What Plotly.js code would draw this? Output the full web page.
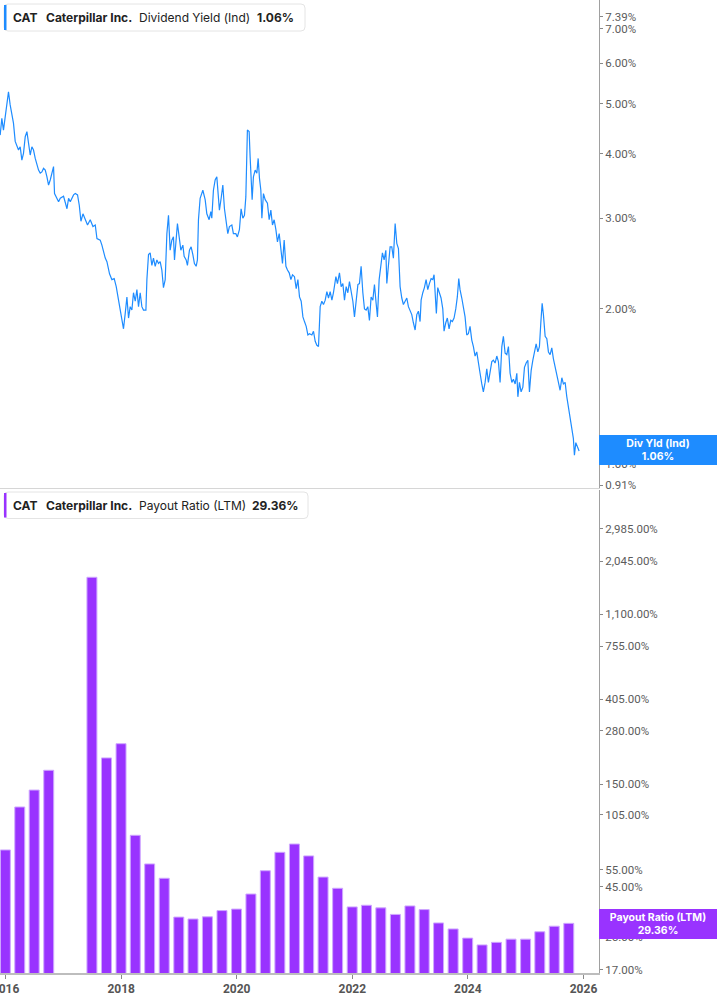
<!DOCTYPE html>
<html>
<head>
<meta charset="utf-8">
<script src="https://cdn.plot.ly/plotly-3.0.1.min.js"></script>
<style>
  html, body { margin: 0; padding: 0; background: #ffffff; }
  #chart { width: 717px; height: 1005px; }
</style>
</head>
<body>
<div id="chart"></div>
<script>
// ---- Dividend yield (Ind), % — decimal-year dates ----
const yieldT = [
  2015.907, 2015.936, 2015.964, 2015.994, 2016.023, 2016.051, 2016.080, 2016.109, 2016.137, 2016.167,
  2016.196, 2016.224, 2016.253, 2016.282, 2016.310, 2016.340, 2016.369, 2016.397, 2016.426, 2016.455,
  2016.483, 2016.513, 2016.542, 2016.570, 2016.599, 2016.628, 2016.656, 2016.686, 2016.715, 2016.743,
  2016.772, 2016.801, 2016.829, 2016.846, 2016.888, 2016.916, 2016.945, 2017.002, 2017.061, 2017.089,
  2017.118, 2017.175, 2017.205, 2017.244, 2017.274, 2017.303, 2017.338, 2017.378, 2017.417, 2017.464,
  2017.511, 2017.551, 2017.580, 2017.637, 2017.666, 2017.724, 2017.753, 2017.798, 2017.839, 2017.879,
  2017.914, 2017.954, 2017.983, 2018.013, 2018.040, 2018.070, 2018.099, 2018.127, 2018.156, 2018.185,
  2018.213, 2018.243, 2018.272, 2018.300, 2018.329, 2018.358, 2018.386, 2018.428, 2018.445, 2018.473,
  2018.502, 2018.531, 2018.559, 2018.589, 2018.618, 2018.646, 2018.675, 2018.704, 2018.732, 2018.762,
  2018.791, 2018.819, 2018.848, 2018.877, 2018.905, 2018.923, 2018.952, 2018.974, 2019.004, 2019.033,
  2019.068, 2019.090, 2019.125, 2019.147, 2019.182, 2019.211, 2019.241, 2019.268, 2019.298, 2019.320,
  2019.338, 2019.367, 2019.414, 2019.454, 2019.483, 2019.523, 2019.552, 2019.569, 2019.597, 2019.627,
  2019.656, 2019.684, 2019.701, 2019.731, 2019.760, 2019.788, 2019.817, 2019.846, 2019.874, 2019.916,
  2019.943, 2019.985, 2020.012, 2020.047, 2020.076, 2020.106, 2020.134, 2020.158, 2020.185, 2020.215,
  2020.232, 2020.249, 2020.267, 2020.289, 2020.319, 2020.348, 2020.371, 2020.393, 2020.417, 2020.435,
  2020.462, 2020.492, 2020.531, 2020.561, 2020.590, 2020.618, 2020.647, 2020.677, 2020.704, 2020.734,
  2020.763, 2020.791, 2020.820, 2020.850, 2020.877, 2020.907, 2020.936, 2020.964, 2020.998, 2021.028,
  2021.057, 2021.085, 2021.114, 2021.144, 2021.171, 2021.201, 2021.230, 2021.258, 2021.299, 2021.327,
  2021.357, 2021.386, 2021.414, 2021.443, 2021.472, 2021.500, 2021.530, 2021.559, 2021.587, 2021.616,
  2021.646, 2021.673, 2021.715, 2021.742, 2021.777, 2021.806, 2021.836, 2021.864, 2021.893, 2021.922,
  2021.950, 2021.979, 2022.009, 2022.037, 2022.066, 2022.096, 2022.123, 2022.152, 2022.182, 2022.210,
  2022.239, 2022.268, 2022.296, 2022.325, 2022.355, 2022.383, 2022.412, 2022.435, 2022.464, 2022.493,
  2022.521, 2022.550, 2022.580, 2022.597, 2022.625, 2022.654, 2022.683, 2022.711, 2022.741, 2022.770,
  2022.798, 2022.827, 2022.856, 2022.884, 2022.914, 2022.943, 2022.971, 2023.000, 2023.029, 2023.057,
  2023.087, 2023.116, 2023.144, 2023.173, 2023.191, 2023.220, 2023.248, 2023.277, 2023.306, 2023.334,
  2023.364, 2023.393, 2023.415, 2023.438, 2023.455, 2023.479, 2023.507, 2023.536, 2023.566, 2023.588,
  2023.618, 2023.645, 2023.675, 2023.704, 2023.732, 2023.761, 2023.791, 2023.818, 2023.843, 2023.865,
  2023.895, 2023.922, 2023.952, 2023.981, 2024.009, 2024.038, 2024.068, 2024.096, 2024.125, 2024.154,
  2024.182, 2024.211, 2024.241, 2024.268, 2024.298, 2024.327, 2024.355, 2024.384, 2024.414, 2024.441,
  2024.471, 2024.500, 2024.528, 2024.557, 2024.587, 2024.614, 2024.644, 2024.673, 2024.701, 2024.730,
  2024.760, 2024.787, 2024.817, 2024.846, 2024.864, 2024.891, 2024.920, 2024.950, 2024.978, 2025.007,
  2025.036, 2025.064, 2025.094, 2025.123, 2025.151, 2025.180, 2025.209, 2025.237, 2025.261, 2025.284,
  2025.306, 2025.336, 2025.365, 2025.393, 2025.422, 2025.451, 2025.479, 2025.509, 2025.538, 2025.566,
  2025.595, 2025.625, 2025.652, 2025.682, 2025.711, 2025.739, 2025.768, 2025.798, 2025.825, 2025.843,
  2025.867, 2025.895, 2025.924
];
const yieldPct = [
  4.35, 4.69, 4.45, 4.73, 5.09, 5.28, 4.98, 4.73, 4.59, 4.23,
  4.13, 4.07, 4.13, 3.89, 4.01, 4.32, 4.42, 4.23, 3.98, 4.13,
  4.07, 3.92, 3.81, 3.72, 3.67, 3.69, 3.75, 3.72, 3.61, 3.48,
  3.56, 3.69, 3.78, 3.35, 3.28, 3.23, 3.28, 3.31, 3.13, 3.28,
  3.23, 3.33, 3.35, 3.33, 3.18, 2.96, 3.06, 2.98, 2.91, 2.98,
  2.89, 2.91, 2.74, 2.72, 2.66, 2.51, 2.47, 2.34, 2.28, 2.29,
  2.21, 2.08, 1.99, 1.92, 1.83, 1.96, 2.11, 1.92, 2.02, 1.99,
  2.15, 2.07, 2.18, 2.02, 2.15, 2.02, 1.99, 1.99, 2.28, 2.55,
  2.57, 2.43, 2.51, 2.42, 2.49, 2.45, 2.47, 2.38, 2.20, 2.28,
  2.80, 3.04, 2.60, 2.72, 2.76, 2.49, 2.76, 2.93, 2.76, 2.60,
  2.66, 2.53, 2.49, 2.43, 2.60, 2.64, 2.55, 2.45, 2.42, 2.49,
  2.98, 3.28, 3.40, 3.26, 3.06, 2.98, 3.09, 3.00, 3.40, 3.56,
  3.61, 3.30, 3.11, 3.28, 3.48, 3.13, 2.98, 2.80, 2.89, 2.91,
  2.80, 2.80, 2.76, 2.85, 3.13, 3.00, 3.04, 3.30, 4.45, 4.42,
  3.95, 3.53, 3.26, 3.61, 3.72, 3.67, 3.92, 3.59, 3.40, 3.00,
  3.35, 3.26, 3.21, 2.98, 3.11, 2.91, 2.98, 2.85, 2.70, 2.80,
  2.64, 2.45, 2.72, 2.42, 2.38, 2.35, 2.28, 2.33, 2.31, 2.19,
  2.28, 2.11, 2.07, 1.93, 1.89, 1.85, 1.78, 1.79, 1.78, 1.81,
  1.73, 1.70, 1.69, 2.02, 2.07, 2.04, 2.08, 2.16, 2.10, 2.16,
  2.08, 2.15, 2.31, 2.24, 2.35, 2.21, 2.24, 2.08, 2.21, 2.15,
  2.26, 2.16, 2.07, 1.93, 2.11, 2.23, 2.24, 2.42, 2.15, 2.00,
  1.99, 2.02, 1.90, 2.11, 2.08, 2.23, 2.05, 1.93, 2.28, 2.45,
  2.57, 2.49, 2.60, 2.24, 2.45, 2.64, 2.64, 2.51, 2.93, 2.68,
  2.62, 2.21, 2.10, 2.04, 2.07, 2.10, 2.02, 1.99, 1.95, 1.88,
  1.82, 1.95, 1.98, 1.89, 2.08, 2.15, 2.20, 2.28, 2.18, 2.24,
  2.29, 2.28, 2.33, 2.11, 1.96, 2.20, 2.15, 2.10, 2.00, 1.81,
  1.88, 1.92, 1.83, 1.90, 1.89, 1.92, 2.00, 2.11, 2.29, 2.18,
  2.10, 2.02, 1.93, 1.78, 1.79, 1.85, 1.74, 1.69, 1.62, 1.65,
  1.56, 1.50, 1.43, 1.38, 1.44, 1.53, 1.44, 1.50, 1.58, 1.59,
  1.57, 1.62, 1.58, 1.44, 1.69, 1.77, 1.64, 1.63, 1.69, 1.50,
  1.44, 1.46, 1.43, 1.50, 1.35, 1.44, 1.38, 1.41, 1.54, 1.57,
  1.59, 1.38, 1.52, 1.59, 1.64, 1.71, 1.65, 1.69, 1.88, 2.05,
  1.95, 1.77, 1.75, 1.65, 1.63, 1.68, 1.60, 1.55, 1.50, 1.44,
  1.39, 1.47, 1.43, 1.44, 1.35, 1.29, 1.24, 1.18, 1.12, 1.04,
  1.10, 1.08, 1.06
];

// ---- Payout ratio (LTM), %, quarterly (null = negative, not drawn) ----
const payoutQuarters = [
  "2015-12-31", "2016-03-31", "2016-06-30", "2016-09-30", "2016-12-31", "2017-03-31",
  "2017-06-30", "2017-09-30", "2017-12-31", "2018-03-31", "2018-06-30", "2018-09-30",
  "2018-12-31", "2019-03-31", "2019-06-30", "2019-09-30", "2019-12-31", "2020-03-31",
  "2020-06-30", "2020-09-30", "2020-12-31", "2021-03-31", "2021-06-30", "2021-09-30",
  "2021-12-31", "2022-03-31", "2022-06-30", "2022-09-30", "2022-12-31", "2023-03-31",
  "2023-06-30", "2023-09-30", "2023-12-31", "2024-03-31", "2024-06-30", "2024-09-30",
  "2024-12-31", "2025-03-31", "2025-06-30", "2025-09-30"
];
const payoutPct = [
  69.4, 114.8, 140.0, 176.5, null, null,
  1694, 204.0, 241.0, 82.4, 58.9, 49.8,
  31.6, 30.9, 31.7, 34.1, 34.7, 41.4,
  54.4, 67.5, 74.4, 64.7, 50.5, 44.3,
  35.6, 36.3, 35.2, 32.6, 36.0, 34.5,
  29.5, 27.5, 24.7, 22.8, 23.5, 24.4,
  24.4, 26.6, 28.4, 29.36
];

// ---- Axis ticks ----
const yieldTickVals = [0.91, 1.00, 2.00, 3.00, 4.00, 5.00, 6.00, 7.00, 7.39];
const yieldTickText = ["0.91%", "1.00%", "2.00%", "3.00%", "4.00%", "5.00%", "6.00%", "7.00%", "7.39%"];
const payoutTickVals = [17, 25, 45, 55, 105, 150, 280, 405, 755, 1100, 2045, 2985];
const payoutTickText = ["17.00%", "25.00%", "45.00%", "55.00%", "105.00%", "150.00%", "280.00%",
                        "405.00%", "755.00%", "1,100.00%", "2,045.00%", "2,985.00%"];
const xTickYears = [2016, 2018, 2020, 2022, 2024, 2026];

const ticker = "CAT";
const company = "Caterpillar Inc.";
const yieldName = "Dividend Yield (Ind)";
const payoutName = "Payout Ratio (LTM)";
const yieldLast = "1.06%";
const payoutLast = "29.36%";

// ---- helpers ----
function decYearToDate(t) {
  const y = Math.floor(t);
  const s = Date.UTC(y, 0, 1), e = Date.UTC(y + 1, 0, 1);
  return new Date(s + (t - y) * (e - s)).toISOString().slice(0, 19).replace('T', ' ');
}
const yieldDates = yieldT.map(decYearToDate);

const W = 717, H = 1005;
const M = { l: 0, r: 118, t: 0, b: 32 };
const PW = W - M.l - M.r, PH = H - M.t - M.b;
const px = x => (x - M.l) / PW;
const py = y => 1 - (y - M.t) / PH;

const blue = '#1e8cff';
const purple = '#9933ff';
const txt = '#222222';

function roundRect(x0, y0, x1, y1, r) {
  const X = v => px(v), Y = v => py(v);
  return `M ${X(x0 + r)},${Y(y0)} L ${X(x1 - r)},${Y(y0)} Q ${X(x1)},${Y(y0)} ${X(x1)},${Y(y0 + r)} ` +
         `L ${X(x1)},${Y(y1 - r)} Q ${X(x1)},${Y(y1)} ${X(x1 - r)},${Y(y1)} L ${X(x0 + r)},${Y(y1)} ` +
         `Q ${X(x0)},${Y(y1)} ${X(x0)},${Y(y1 - r)} L ${X(x0)},${Y(y0 + r)} Q ${X(x0)},${Y(y0)} ${X(x0 + r)},${Y(y0)} Z`;
}

const traces = [
  {
    x: yieldDates, y: yieldPct, type: 'scatter', mode: 'lines',
    xaxis: 'x', yaxis: 'y',
    line: { color: blue, width: 1.2 },
    hoverinfo: 'skip'
  },
  {
    x: payoutQuarters, y: payoutPct, type: 'bar',
    xaxis: 'x2', yaxis: 'y2',
    marker: { color: purple, line: { color: '#cfa8ff', width: 1 } },
    hoverinfo: 'skip'
  }
];

const xRange = ['2015-11-27', '2026-04-09'];
const tickFont = { family: 'Roboto, Arial, sans-serif', size: 11.5, color: '#5c5c5c' };

const divTop = 0, divBot = 487.5, payTop = 490, payBot = 973;

const layout = {
  width: W, height: H,
  margin: M,
  paper_bgcolor: '#ffffff', plot_bgcolor: '#ffffff',
  showlegend: false,
  bargap: 0.3,
  xaxis: {
    type: 'date', range: xRange, domain: [0, 1], anchor: 'y',
    showticklabels: false, ticks: '', showgrid: false, zeroline: false,
    showline: true, linecolor: '#d6d6d6', linewidth: 1
  },
  yaxis: {
    type: 'log', side: 'right', domain: [py(divBot), py(divTop)], anchor: 'x',
    range: [Math.log10(0.9), Math.log10(7.96)],
    tickmode: 'array', tickvals: yieldTickVals, ticktext: yieldTickText,
    ticks: 'outside', ticklen: 3, tickcolor: '#888', tickwidth: 1,
    showgrid: false, zeroline: false,
    showline: true, linecolor: '#a0a0a0', linewidth: 1,
    tickfont: tickFont
  },
  xaxis2: {
    type: 'date', range: xRange, domain: [0, 1], anchor: 'y2',
    tickmode: 'array',
    tickvals: xTickYears.map(y => y + '-01-01'),
    ticktext: xTickYears.map(String),
    ticks: 'outside', ticklen: 4, tickcolor: '#888', tickwidth: 1,
    ticklabeloverflow: 'allow',
    showgrid: false, zeroline: false,
    showline: true, linecolor: '#bdbdbd', linewidth: 2,
    tickfont: { family: 'Roboto, Arial, sans-serif', size: 12, color: '#555555', weight: 'bold' }
  },
  yaxis2: {
    type: 'log', side: 'right', domain: [py(payBot), py(payTop)], anchor: 'x2',
    range: [1.2151, 3.6731],
    tickmode: 'array', tickvals: payoutTickVals, ticktext: payoutTickText,
    ticks: 'outside', ticklen: 3, tickcolor: '#888', tickwidth: 1,
    showgrid: false, zeroline: false,
    showline: true, linecolor: '#a0a0a0', linewidth: 1,
    tickfont: tickFont
  },
  shapes: [
    { type: 'path', xref: 'paper', yref: 'paper', path: roundRect(4, 4, 305, 31, 4),
      fillcolor: '#ffffff', line: { color: '#e4e4e4', width: 1 }, layer: 'above' },
    { type: 'rect', xref: 'paper', yref: 'paper', x0: px(4), x1: px(6.5), y0: py(30), y1: py(5),
      fillcolor: blue, line: { width: 0 }, layer: 'above' },
    { type: 'path', xref: 'paper', yref: 'paper', path: roundRect(4, 492, 308, 518.5, 4),
      fillcolor: '#ffffff', line: { color: '#e4e4e4', width: 1 }, layer: 'above' },
    { type: 'rect', xref: 'paper', yref: 'paper', x0: px(4), x1: px(6.5), y0: py(517.5), y1: py(493),
      fillcolor: purple, line: { width: 0 }, layer: 'above' }
  ],
  annotations: []
};

const legFont = (bold) => ({ family: 'Inter, "Open Sans", sans-serif', size: 12, color: txt, weight: bold ? 'bold' : 'normal' });
function legText(x, yc, text, bold) {
  layout.annotations.push({
    xref: 'paper', yref: 'paper', x: px(x), y: py(yc), xanchor: 'left', yanchor: 'middle',
    text: text, showarrow: false, font: legFont(bold), borderpad: 0
  });
}
legText(12, 17.5, ticker, true);
legText(45, 17.5, company, true);
legText(138, 17.5, yieldName, false);
legText(256, 17.5, yieldLast, true);
legText(12, 505.5, ticker, true);
legText(45, 505.5, company, true);
legText(138, 505.5, payoutName, false);
legText(251, 505.5, payoutLast, true);

function sideLabel(yTop, yBot, color, line1, line2) {
  layout.annotations.push({
    xref: 'paper', yref: 'paper', x: px(599), y: py((yTop + yBot) / 2), xanchor: 'left', yanchor: 'middle',
    text: '<b>' + line1 + '</b><br><b>' + line2 + '</b>', showarrow: false,
    bgcolor: color, width: W - 599, height: yBot - yTop, borderpad: 0, borderwidth: 0, align: 'center',
    font: { family: 'Inter, "Open Sans", sans-serif', size: 10.5, color: '#ffffff' }
  });
}
sideLabel(435, 465, blue, 'Div Yld (Ind)', yieldLast);
sideLabel(909, 939, purple, 'Payout Ratio (LTM)', payoutLast);

Plotly.newPlot('chart', traces, layout, { staticPlot: true, displayModeBar: false });
</script>
</body>
</html>
